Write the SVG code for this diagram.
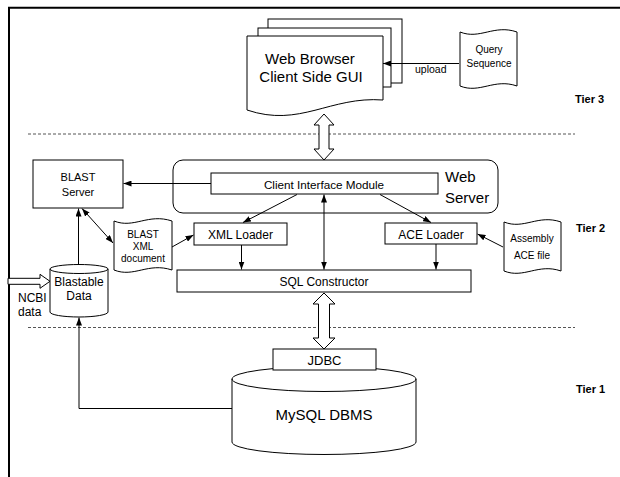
<svg xmlns="http://www.w3.org/2000/svg" width="620" height="477" viewBox="0 0 620 477">
  <style>
    .box { fill: #fff; stroke: #000; stroke-width: 1; }
    .conn { fill: none; stroke: #000; stroke-width: 1; }
    .hollow { fill: #fff; stroke: #000; stroke-width: 1; }
    .tier-sep { fill: none; stroke: #555; stroke-width: 1; stroke-dasharray: 3 2; }
    text { font-family: "Liberation Sans", Arial, sans-serif; fill: #000; }
    .c { text-anchor: middle; }
    .tier { font-weight: bold; font-size: 11px; }
  </style>
  <defs>
    <marker id="arrow" viewBox="0 0 8 6" refX="8" refY="3" markerWidth="8" markerHeight="6" markerUnits="userSpaceOnUse" orient="auto-start-reverse">
      <path d="M0,0 L8,3 L0,6 z" fill="#000"/>
    </marker>
  </defs>

  <rect width="620" height="477" fill="#fff"/>

  <!-- page frame -->
  <path d="M8,7.7 H620 M9,7 V477" fill="none" stroke="#000" stroke-width="2"/>

  <!-- tier separators -->
  <line class="tier-sep" x1="28" y1="134" x2="575" y2="134"/>
  <line class="tier-sep" x1="28" y1="327.5" x2="575" y2="327.5"/>

  <!-- tier labels -->
  <text class="tier" x="575" y="103">Tier 3</text>
  <text class="tier" x="576" y="232">Tier 2</text>
  <text class="tier" x="576" y="393">Tier 1</text>

  <!-- Web browser (stacked pages) -->
  <g id="web-browser">
    <rect class="box" x="268" y="19" width="134" height="64"/>
    <rect class="box" x="258" y="28" width="133" height="59"/>
    <path class="box" d="M247,36 H383 V100 C330,96 300,128 247,110 Z"/>
    <text class="c" x="310" y="64" font-size="15">Web Browser</text>
    <text class="c" x="311" y="82" font-size="15">Client Side GUI</text>
  </g>

  <!-- Query sequence file -->
  <g id="query-sequence">
    <path class="box" d="M460,32 C480,40 494,24 517,32 V86 C494,78 480,94 460,86 Z"/>
    <text class="c" x="489" y="53" font-size="10">Query</text>
    <text class="c" x="489" y="67" font-size="10">Sequence</text>
  </g>

  <!-- Web server with client interface module -->
  <g id="web-server">
    <rect class="box" x="173" y="160" width="325" height="53" rx="10" ry="10"/>
    <text x="445" y="182" font-size="15">Web</text>
    <text x="445" y="202.5" font-size="15">Server</text>
  </g>
  <g id="client-interface-module">
    <rect class="box" x="211" y="173" width="227" height="21"/>
    <text class="c" x="324" y="189" font-size="11.7">Client Interface Module</text>
  </g>

  <!-- BLAST server -->
  <g id="blast-server">
    <rect class="box" x="33" y="160" width="90" height="48"/>
    <text class="c" x="78" y="180.5" font-size="11">BLAST</text>
    <text class="c" x="78" y="195.5" font-size="11">Server</text>
  </g>

  <!-- BLAST XML document -->
  <g id="blast-xml">
    <path class="box" d="M114,221 C134,229 148,213 172,221 V270 C148,262 134,278 114,270 Z"/>
    <text class="c" x="143" y="237.5" font-size="10">BLAST</text>
    <text class="c" x="143" y="250" font-size="10">XML</text>
    <text class="c" x="143" y="262" font-size="10">document</text>
  </g>

  <!-- XML loader -->
  <g id="xml-loader">
    <rect class="box" x="194" y="223" width="93" height="22"/>
    <text class="c" x="240.5" y="238.5" font-size="12">XML Loader</text>
  </g>

  <!-- ACE loader -->
  <g id="ace-loader">
    <rect class="box" x="385" y="223" width="92" height="21"/>
    <text class="c" x="431" y="238.5" font-size="12">ACE Loader</text>
  </g>

  <!-- Assembly ACE file -->
  <g id="assembly-ace">
    <path class="box" d="M504,222 C524,230 538,214 561,222 V271 C538,263 524,279 504,271 Z"/>
    <text class="c" x="532" y="241.5" font-size="10">Assembly</text>
    <text class="c" x="532" y="258.5" font-size="10">ACE file</text>
  </g>

  <!-- SQL constructor -->
  <g id="sql-constructor">
    <rect class="box" x="177" y="270" width="294" height="22"/>
    <text class="c" x="324" y="285.5" font-size="12">SQL Constructor</text>
  </g>

  <!-- Blastable data store -->
  <g id="blastable-data">
    <path class="box" d="M50,269 A29,4.5 0 0 1 108,269 V312 A29,5 0 0 1 50,312 Z"/>
    <path class="conn" d="M50,269 A29,4.5 0 0 0 108,269"/>
    <text class="c" x="79" y="286" font-size="12">Blastable</text>
    <text class="c" x="79" y="300" font-size="12">Data</text>
  </g>

  <!-- NCBI data input -->
  <g id="ncbi-data">
    <path class="hollow" d="M8,278.3 H40 V274.3 L50,281.3 L40,288.3 V284.3 H8 Z"/>
    <text x="18" y="301.5" font-size="12">NCBI</text>
    <text x="18" y="315.5" font-size="12">data</text>
  </g>

  <!-- MySQL DBMS with JDBC layer -->
  <g id="mysql-dbms">
    <path class="box" d="M232,379 A92,12.5 0 0 1 416,379 V442 A92,12.5 0 0 1 232,442 Z"/>
    <path class="conn" d="M232,379 A92,12.5 0 0 0 416,379"/>
    <text class="c" x="324" y="420" font-size="15">MySQL DBMS</text>
  </g>
  <g id="jdbc">
    <rect class="box" x="273" y="349" width="103" height="21"/>
    <text class="c" x="324.5" y="364.5" font-size="13">JDBC</text>
  </g>

  <!-- connectors -->
  <g id="connectors">
    <!-- hollow two-way arrows -->
    <path class="hollow" d="M324,114 L334,125 L329,125 L329,149 L334,149 L324,160 L314,149 L319,149 L319,125 L314,125 Z"/>
    <path class="hollow" d="M324,293 L335,304 L329.5,304 L329.5,338 L335,338 L324,349 L313,338 L318.5,338 L318.5,304 L313,304 Z"/>

    <!-- upload -->
    <line class="conn" x1="459" y1="63.5" x2="383" y2="63.5" marker-end="url(#arrow)"/>
    <text x="415" y="73" font-size="10.5">upload</text>

    <!-- client interface module links -->
    <line class="conn" x1="211" y1="183.5" x2="123.5" y2="183.5" marker-end="url(#arrow)"/>
    <line class="conn" x1="297" y1="194.5" x2="243" y2="222.5" marker-end="url(#arrow)"/>
    <line class="conn" x1="380" y1="194.5" x2="431" y2="222.5" marker-end="url(#arrow)"/>
    <line class="conn" x1="324" y1="194.5" x2="324" y2="269.5" marker-start="url(#arrow)" marker-end="url(#arrow)"/>

    <!-- loaders into SQL constructor -->
    <line class="conn" x1="241.5" y1="245" x2="241.5" y2="269.5" marker-end="url(#arrow)"/>
    <line class="conn" x1="436" y1="244" x2="436" y2="269.5" marker-end="url(#arrow)"/>

    <!-- documents into loaders -->
    <line class="conn" x1="172" y1="247" x2="193.5" y2="235" marker-end="url(#arrow)"/>
    <line class="conn" x1="503" y1="247" x2="477.5" y2="234" marker-end="url(#arrow)"/>

    <!-- BLAST server links -->
    <line class="conn" x1="82" y1="208.5" x2="113" y2="243" marker-start="url(#arrow)" marker-end="url(#arrow)"/>
    <line class="conn" x1="78.5" y1="264.5" x2="78.5" y2="208.5" marker-end="url(#arrow)"/>

    <!-- DBMS export back to blastable data -->
    <path class="conn" d="M232,408.5 H79 V317.5" marker-end="url(#arrow)"/>
  </g>
</svg>
